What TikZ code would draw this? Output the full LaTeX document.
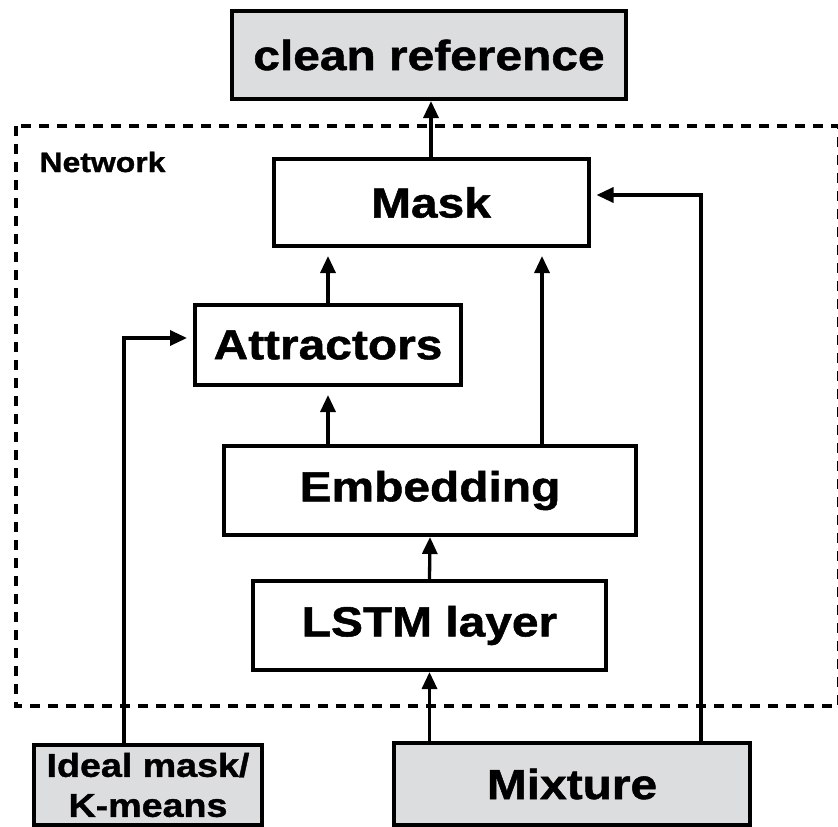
\documentclass[tikz,border=0pt]{standalone}
\usepackage{fontspec}
\setmainfont{Liberation Sans}[FakeStretch=1.14,FakeBold=1.2]
\usetikzlibrary{arrows.meta,calc}
\definecolor{boxgray}{RGB}{220,221,223}
\begin{document}
\begin{tikzpicture}[x=1pt,y=-1pt,
  box/.style={draw,line width=4pt,inner sep=0pt,font=\bfseries\fontsize{42}{48}\selectfont},
  inbox/.style={box,fill=boxgray},
  conn/.style={line width=3.3pt,-{Triangle[length=17pt,width=15pt]}},
]
\useasboundingbox (0,0) rectangle (838,827);
\fill[white] (0,0) rectangle (838,827);
\draw[line width=4pt,dash pattern=on 10pt off 8pt] (16,126) rectangle (838.5,706);
\node[anchor=west,font=\bfseries\fontsize{28}{32}\selectfont] (net) at (36,162) {Network};
\node[inbox,minimum width=394pt,minimum height=88pt] (clean) at (429,55) {clean reference};
\node[box,minimum width=315pt,minimum height=87pt] (mask) at (431,202.5) {Mask};
\node[box,minimum width=266pt,minimum height=80pt] (attr) at (328,345) {Attractors};
\node[box,minimum width=412pt,minimum height=89pt] (emb) at (430,490.5) {Embedding};
\node[box,minimum width=353pt,minimum height=89pt] (lstm) at (429.5,625.5) {LSTM layer};
\node[inbox,minimum width=228pt,minimum height=80pt,align=center,
      font=\bfseries\fontsize{33}{40}\selectfont] (ideal) at (148,785) {Ideal mask/\\K-means};
\node[inbox,minimum width=356pt,minimum height=82pt] (mix) at (572,784) {Mixture};
\draw[conn] (mask.north) -- (mask.north |- clean.south);
\draw[conn,shorten >=8pt] (attr.north) -- (attr.north |- mask.south);
\draw[conn,shorten >=8pt] ([xshift=112pt]emb.north) -- ([xshift=112pt]emb.north |- mask.south);
\draw[conn,shorten >=8pt] (emb.north -| attr.north) -- (attr.south);
\draw[conn] (lstm.north) -- (emb.south);
\draw[conn] (mix.north -| lstm.north) -- (lstm.south);
\draw[conn,shorten >=6pt] ([xshift=129pt]mix.north) |- ([yshift=7.5pt]mask.east);
\draw[conn,shorten >=6pt] ([xshift=-24pt]ideal.north) |- ([yshift=7pt]attr.west);
\end{tikzpicture}
\end{document}
